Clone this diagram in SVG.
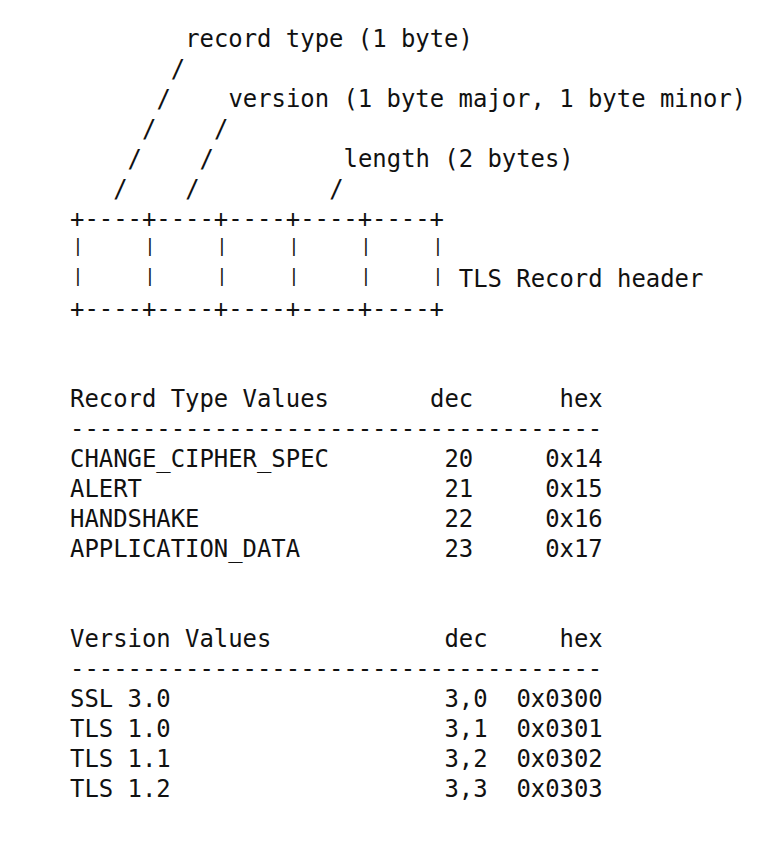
<svg xmlns="http://www.w3.org/2000/svg" width="780" height="854" viewBox="0 0 780 854">
<style>
text{font-family:"DejaVu Sans Mono","Liberation Mono",monospace;font-size:23.9px;fill:#111;white-space:pre}
text.pipe{font-size:18px}
</style>
<rect width="780" height="854" fill="#fff"/>
<g id="labels">
<text x="185.2" y="46.5">record type (1 byte)</text>
<text x="228.4" y="106.5">version (1 byte major, 1 byte minor)</text>
<text x="343.6" y="166.5">length (2 bytes)</text>
</g>
<g id="connectors">
<text x="170.8" y="76.5">/</text>
<text x="156.4" y="106.5">/</text>
<text x="142" y="136.5">/</text>
<text x="214" y="136.5">/</text>
<text x="127.6" y="166.5">/</text>
<text x="199.6" y="166.5">/</text>
<text x="113.2" y="196.5">/</text>
<text x="185.2" y="196.5">/</text>
<text x="329.2" y="196.5">/</text>
</g>
<g id="record-header">
<text x="70" y="226.5">+----+----+----+----+----+</text>
<text class="pipe" x="72.6 144.6 216.6 288.6 360.6 432.6" y="252">||||||</text>
<text class="pipe" x="72.6 144.6 216.6 288.6 360.6 432.6" y="282">||||||</text>
<text x="458.8" y="286.5">TLS Record header</text>
<text x="70" y="316.5">+----+----+----+----+----+</text>
</g>
<g id="record-type-values">
<text x="70" y="406.5">Record Type Values</text>
<text x="430" y="406.5">dec</text>
<text x="559.6" y="406.5">hex</text>
<text x="70" y="436.5">-------------------------------------</text>
<text x="70" y="466.5">CHANGE_CIPHER_SPEC</text>
<text x="444.4" y="466.5">20</text>
<text x="545.2" y="466.5">0x14</text>
<text x="70" y="496.5">ALERT</text>
<text x="444.4" y="496.5">21</text>
<text x="545.2" y="496.5">0x15</text>
<text x="70" y="526.5">HANDSHAKE</text>
<text x="444.4" y="526.5">22</text>
<text x="545.2" y="526.5">0x16</text>
<text x="70" y="556.5">APPLICATION_DATA</text>
<text x="444.4" y="556.5">23</text>
<text x="545.2" y="556.5">0x17</text>
</g>
<g id="version-values">
<text x="70" y="646.5">Version Values</text>
<text x="444.4" y="646.5">dec</text>
<text x="559.6" y="646.5">hex</text>
<text x="70" y="676.5">-------------------------------------</text>
<text x="70" y="706.5">SSL 3.0</text>
<text x="444.4" y="706.5">3,0</text>
<text x="516.4" y="706.5">0x0300</text>
<text x="70" y="736.5">TLS 1.0</text>
<text x="444.4" y="736.5">3,1</text>
<text x="516.4" y="736.5">0x0301</text>
<text x="70" y="766.5">TLS 1.1</text>
<text x="444.4" y="766.5">3,2</text>
<text x="516.4" y="766.5">0x0302</text>
<text x="70" y="796.5">TLS 1.2</text>
<text x="444.4" y="796.5">3,3</text>
<text x="516.4" y="796.5">0x0303</text>
</g>
</svg>
